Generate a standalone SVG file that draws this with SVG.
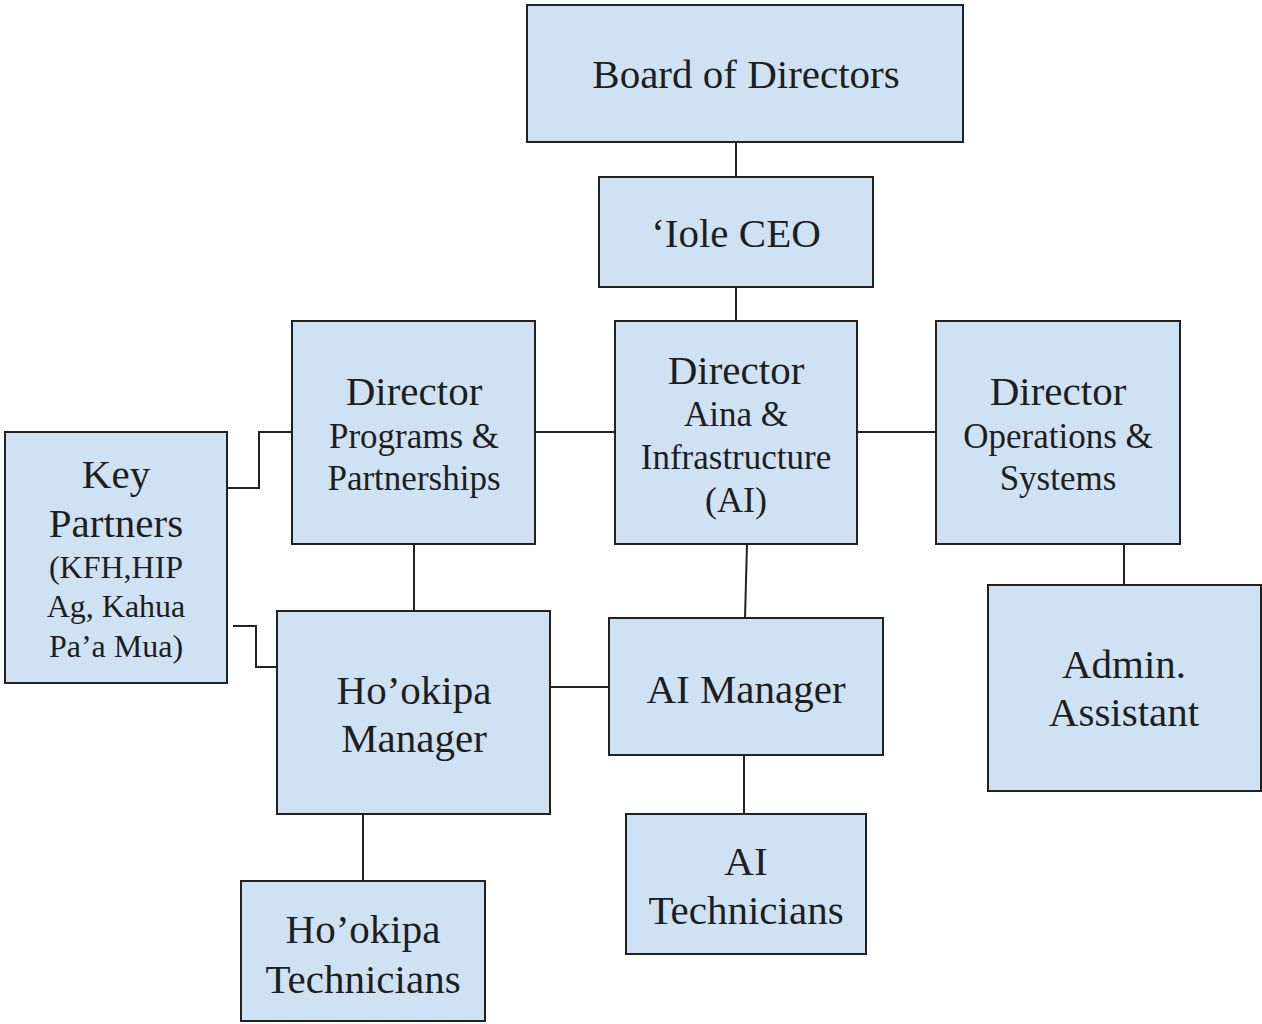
<svg xmlns="http://www.w3.org/2000/svg" width="1262" height="1024" viewBox="0 0 1262 1024">
<style>
.box{fill:#cfe2f3;stroke:#222;stroke-width:2}
.ln{fill:none;stroke:#222;stroke-width:2}
text{font-family:"Liberation Serif","Times New Roman",serif;fill:#1e1e1e;text-anchor:middle}
.l{font-size:41px}
.m{font-size:35px}
.s{font-size:32px}
</style>
<rect width="1262" height="1024" fill="#fff"/>
<g id="connectors">
<line class="ln" x1="736" y1="142" x2="736" y2="177"/>
<line class="ln" x1="736" y1="287" x2="736" y2="321"/>
<line class="ln" x1="535" y1="432" x2="615" y2="432"/>
<line class="ln" x1="857" y1="432" x2="936" y2="432"/>
<polyline class="ln" points="227,488 259,488 259,432 292,432"/>
<polyline class="ln" points="233,626 256,626 256,667 277,667"/>
<line class="ln" x1="414" y1="544" x2="414" y2="611"/>
<line class="ln" x1="747" y1="544" x2="745" y2="618"/>
<line class="ln" x1="550" y1="687" x2="609" y2="687"/>
<line class="ln" x1="744" y1="755" x2="744" y2="814"/>
<line class="ln" x1="363" y1="814" x2="363" y2="881"/>
<line class="ln" x1="1124" y1="544" x2="1124" y2="585"/>
</g>
<g id="board"><rect class="box" x="527" y="5" width="436" height="137"/><text class="l" x="746" y="88">Board of Directors</text></g>
<g id="ceo"><rect class="box" x="599" y="177" width="274" height="110"/><text class="l" x="736" y="247">‘Iole CEO</text></g>
<g id="dir-programs"><rect class="box" x="292" y="321" width="243" height="223"/><text class="l" x="414" y="405">Director</text><text class="m" x="414" y="448">Programs &amp;</text><text class="m" x="414" y="490">Partnerships</text></g>
<g id="dir-ai"><rect class="box" x="615" y="321" width="242" height="223"/><text class="l" x="736" y="384">Director</text><text class="m" x="736" y="426">Aina &amp;</text><text class="m" x="736" y="469">Infrastructure</text><text class="l" x="736" y="512" style="font-size:36px">(AI)</text></g>
<g id="dir-ops"><rect class="box" x="936" y="321" width="244" height="223"/><text class="l" x="1058" y="405">Director</text><text class="m" x="1058" y="448">Operations &amp;</text><text class="m" x="1058" y="490">Systems</text></g>
<g id="key-partners"><rect class="box" x="5" y="432" width="222" height="251"/><text class="l" x="116" y="488">Key</text><text class="l" x="116" y="537">Partners</text><text class="s" x="116" y="578">(KFH,HIP</text><text class="s" x="116" y="617">Ag, Kahua</text><text class="s" x="116" y="657">Pa’a Mua)</text></g>
<g id="hookipa-manager"><rect class="box" x="277" y="611" width="273" height="203"/><text class="l" x="414" y="704">Ho’okipa</text><text class="l" x="414" y="752">Manager</text></g>
<g id="ai-manager"><rect class="box" x="609" y="618" width="274" height="137"/><text class="l" x="746" y="703">AI Manager</text></g>
<g id="admin"><rect class="box" x="988" y="585" width="273" height="206"/><text class="l" x="1124" y="678">Admin.</text><text class="l" x="1124" y="726">Assistant</text></g>
<g id="hookipa-tech"><rect class="box" x="241" y="881" width="244" height="140"/><text class="l" x="363" y="943">Ho’okipa</text><text class="l" x="363" y="993">Technicians</text></g>
<g id="ai-tech"><rect class="box" x="626" y="814" width="240" height="140"/><text class="l" x="746" y="875">AI</text><text class="l" x="746" y="924">Technicians</text></g>
</svg>
